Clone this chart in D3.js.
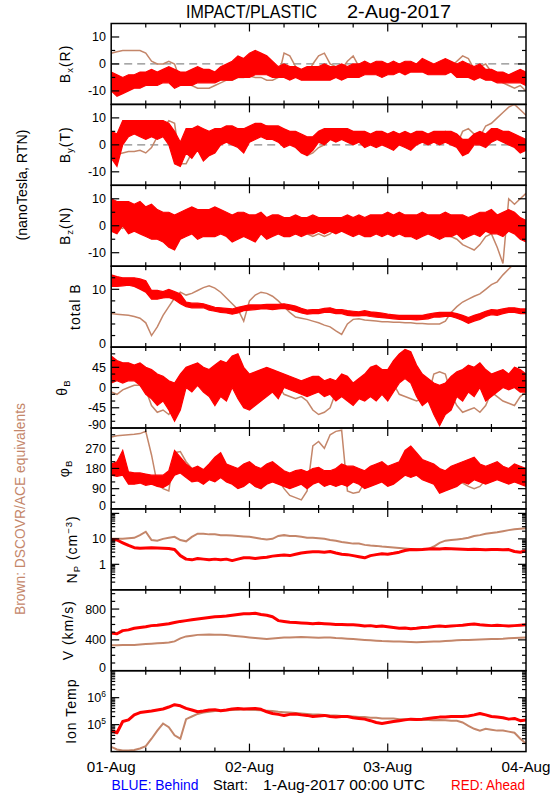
<!DOCTYPE html>
<html><head><meta charset="utf-8">
<script src="https://cdn.jsdelivr.net/npm/d3@7"></script>
<style>
body{margin:0;background:#fff}
svg{display:block}
text{font-family:"Liberation Sans",Arial,sans-serif;fill:#000}
</style>
</head><body><svg id="c" width="550" height="800"></svg>
<script>
// ---------------- DATA (hourly, 01-Aug-2017 00:00 .. 04-Aug-2017 00:00 UTC) ----------------
const bxRedLo = [-10,-12,-11,-10,-9,-9,-8,-8,-8,-7, -7,-9,-8,-8,-8,-7,-7,-7,-7,-6, -6,-6,-5,-5,-5,-4,-4,-4,-5,-5, -5,-6,-5,-6,-6,-6,-6,-6,-6,-5, -6,-5,-5,-5,-4,-4,-4,-5,-4,-4, -3,-4,-3,-3,-3,-4,-4,-4,-4,-3, -5,-5,-5,-6,-5,-6,-6,-7,-7,-7, -7,-7,-8];
const bxRedHi = [-3,-4,-5,-4,-4,-3,-3,-2,-3,-2, -1,-2,-3,-3,-2,-1,-2,-2,-3,-1, 0,1,3,2,4,5,4,3,1,-1, 0,-1,-1,-2,-1,-1,-1,0,-1,-1, 0,-1,0,0,1,0,1,1,0,1, 0,1,1,0,2,1,0,1,2,1, 0,1,0,-1,0,-2,-2,-3,-3,-4, -3,-2,-3];
const bxBrown = [4,4.5,5,5,5,5,4,1,0,0, 1,0,-6,-7,-8,-9,-9,-9,-8,-7, -6,-6,-5,-5,-4.5,-5,-5,-6,-6,-5, 4,3,-1,-3,-4,0,3,4,0,-1, -2,1,3,-1,-2,-2,-3,-2,-2,-3, -2,-2,-1,-2,-2,-1,-2,-2,0,-1, 1,3,2,-2,-1,0,-3,-5,-7,-8, -9,-8,-10];

const byRedLo = [-5,-8,0,3,4,3,2,3,2,3, 0,-7,-8,-3,-5,-2,-6,-4,-3,0, 1,0,-1,-3,1,2,3,2,2,1, -1,0,-1,-3,-4,-2,1,0,2,1, 2,1,0,1,-1,0,-1,0,-1,-2, 0,-1,-2,0,1,0,1,0,1,0, -1,-4,-3,0,0,-1,1,2,1,0, -1,-3,-2];
const byRedHi = [5,4,9,9,9,9,9,9,9,9, 8,5,1,6,6,7,6,5,6,6, 7,7,6,6,7,8,8,7,7,7, 6,5,5,4,3,3,5,6,6,6, 6,6,5,5,5,4,5,5,4,5, 4,5,4,5,5,4,5,5,5,5, 4,2,2,4,5,4,6,6,5,5, 4,3,2];
const byBrown = [-4,-3.5,-3,-2.5,-2.5,-2,-3,-1,3,6, 9,8,-7,-7,-3,1,4,4,4,5, 5,5,5,5,6,7,7,7,6,5, 3,2,1,0,-4,-3,-1,0,2,3, 3,2,3,4,3,2,1,2,2,3, 2,2,1,2,1,2,3,4,5,2, 0,5,6,4,3,7,8,10,12,14, 15,13,11];

const bzRedLo = [-2,-3,0,-3,-2,-3,-4,-5,-5,-6, -8,-9,-5,-4,-3,-5,-4,-4,-4,-3, -4,-6,-5,-4,-5,-6,-3,-5,-4,-3, -4,-4,-3,-4,-3,-3,-2,-3,-2,-3, -2,-3,-4,-3,-4,-4,-3,-4,-3,-4, -3,-4,-4,-5,-4,-3,-4,-5,-4,-4, -3,-5,-4,-3,-4,-2,-3,-3,-4,-2, -3,-5,-6];
const bzRedHi = [10,9,9,9,8,9,7,8,6,5, 5,4,5,6,7,6,6,6,7,6, 5,4,5,5,4,4,5,3,4,4, 3,3,4,3,3,4,3,3,3,3, 3,4,3,4,3,4,4,4,5,4, 5,4,4,4,5,4,4,4,5,4, 4,4,3,4,5,5,6,4,5,6, 5,3,2];
const bzBrown = [0,0,-1,1,0,1,0,-1,-2,-3, -4,-2,-1,4,5,5,4,5,4,4, 3,3,2,2,1,1,2,2,1,0, -1,-2,-3,-2,-3,-4,-3,-4,-3,-1, -1,0,-1,-1,-2,-1,-2,-1,-1,0, -1,-2,-1,-2,-1,-2,-3,-4,-3,-4, -5,-7,-8,-9,-7,-4,-3,-8,-14,10, 8,10,12];

const btRedLo = [10.5,10.5,10.6,10.7,10.5,10,9.5,8.3,8.3,8.5, 8.6,8.2,7.5,7,6.8,6.8,6.8,6.4,6.2,6, 5.9,5.7,5.9,6.3,6.4,6.5,6.6,6.6,6.5,6.6, 6.7,6.5,6.2,5.9,5.7,5.8,5.8,6,6,5.8, 5.8,5.5,5.4,5.4,5.5,5.3,5.2,5.1,5,4.9, 4.8,4.8,4.8,4.7,4.8,4.9,5.2,5.2,5.3,5.3, 5,4.6,4.1,4.5,4.8,5.3,5.6,5.5,5.8,6, 6,5.8,5.8];
const btRedHi = [12.5,12.2,12,12,12,11.8,11.5,9.8,9.8,9.6, 10,9.6,9.2,7.8,7.6,7.6,7.5,7.2,6.9,6.8, 6.7,6.6,6.9,7.1,7.3,7.3,7.3,7.4,7.4,7.4, 7.5,7.3,7.1,6.7,6.4,6.5,6.5,6.7,6.8,6.5, 6.5,6.3,6.2,6.1,6.3,6.1,6,5.9,5.7,5.6, 5.5,5.5,5.5,5.5,5.5,5.7,5.9,6,6,6, 5.8,5.5,5.1,5.5,5.8,6.2,6.5,6.4,6.6,6.8, 6.8,6.6,6.6];
const btBrown = [5.8,5.7,5.6,5.5,5.3,5.0,4.2,2.0,3.5,5.5, 7.0,8.5,9.5,9.0,9.3,9.8,10.3,10.6,10.2,9.5, 8.5,7.5,6.5,4.5,8.0,9.0,9.5,9.3,8.8,8.0, 7.0,6.0,5.2,5.0,4.8,4.5,4.2,3.8,3.5,2.8, 2.2,4.0,4.8,4.9,4.7,4.6,4.5,4.4,4.4,4.3, 4.3,4.2,4.2,4.1,4.1,4.0,4.0,4.0,4.5,6.0, 7.0,7.8,8.3,8.8,9.2,10.0,10.8,11.3,12.5,13.5, 14.5,15,15];

const thRedLo = [10,15,10,15,15,5,-15,-25,-40,-30, -50,-75,-50,0,-10,5,-10,-20,-40,-20, -30,0,-25,-45,-50,-40,-30,-20,-10,-25, 0,-5,-10,-15,-20,-15,-10,-20,-15,-30, -20,-30,-40,-25,-30,-20,-30,-15,-30,-10, 10,20,10,-20,-40,-30,-60,-85,-60,-50, -20,-30,-10,-20,0,-30,-20,-10,0,-5, 0,-10,-10];
const thRedHi = [70,60,55,55,50,55,45,40,30,25, 15,10,30,45,50,55,45,40,50,60, 55,70,75,45,30,35,40,45,40,35, 30,25,20,15,20,25,25,15,20,15, 30,25,10,20,30,45,50,40,40,60, 75,85,80,50,30,20,10,5,10,25, 35,40,50,45,55,40,30,35,40,30, 45,40,30];
const thBrown = [-10,-15,-5,0,5,5,-5,-40,-55,-50, -60,-40,20,25,20,15,20,30,40,45, 42,40,35,30,20,15,20,15,10,5, -15,-20,-25,-20,-30,-50,-60,-55,-45,-10, -5,0,10,12,15,10,8,10,5,8, -15,-20,-25,-30,-25,-20,30,35,30,-15, -40,-55,-50,-45,-55,-40,-10,-20,-30,-35, -40,-20,-10];

const phRedLo = [150,145,150,110,110,115,105,110,100,95, 110,150,160,140,120,125,110,130,120,140, 120,110,90,100,120,100,90,110,120,110, 100,90,100,110,90,110,120,100,110,100, 110,100,120,110,90,100,110,120,100,110, 130,150,140,150,130,120,110,70,80,90, 100,120,110,130,120,110,120,130,120,110, 120,110,100];
const phRedHi = [200,210,260,165,160,160,155,150,150,150, 170,260,230,200,180,190,175,200,230,250, 200,190,180,200,210,190,180,200,210,190, 170,160,170,175,165,180,185,170,170,180, 200,190,190,180,170,190,200,210,190,200, 210,260,280,250,220,210,200,180,170,190, 200,210,220,230,200,190,200,210,190,180, 200,190,180];
const phBrown = [320,325,328,330,332,335,345,240,110,90, 80,250,255,210,180,170,165,190,200,180, 170,175,160,150,130,100,90,120,140,130, 90,60,50,40,80,280,300,270,330,345, 350,80,70,75,120,140,150,130,145,160, 150,170,165,155,140,160,135,125,140,130, 120,115,100,90,100,130,150,140,135,150, 140,135,140];

const npRed = [9.5,9,7,5.5,4.5,4.3,4.4,4.5,4.4,4.3, 4.2,3.8,2.2,1.6,1.5,1.7,1.6,1.5,1.6,1.5, 1.6,1.4,1.6,1.8,1.8,1.7,1.8,1.9,2.1,2.2, 2.3,2.2,2.5,2.8,3.0,3.1,3.1,3.0,3.2,2.8, 2.5,2.4,2.2,2.0,1.8,2.2,2.4,2.6,2.5,2.7, 3.0,3.5,3.8,3.7,3.8,4.0,4.1,4.0,4.2,4.1, 4.0,3.9,3.8,3.9,3.8,3.7,3.8,3.8,3.7,3.8, 3.2,3.0,3.4];
const npBrown = [10,10,10,10.5,11,14,19,9,8.5,10, 11,12,9,8,12,16,16,15,15,14, 14,13.5,13,12.5,12,11,10,9.5,10,13, 14,13,13,12,11,11,10.5,10,9,8.5, 7.5,7,6.5,6.5,5.8,5.5,5.3,5.0,4.8,4.6, 4.4,4.2,4.0,4.0,4.0,3.9,5,7,8.5,9, 9.5,10,11,13,14,16,17,18,20,22, 24,25,26];

const vRed = [490,480,520,530,550,560,570,585,590,600, 610,625,640,650,660,670,680,690,700,705, 710,720,730,740,740,745,730,720,700,650, 640,630,625,620,615,610,615,610,605,600, 600,595,595,590,580,585,575,580,570,560, 550,555,545,550,560,565,575,580,575,580, 585,590,600,605,595,590,585,590,585,580, 585,590,595];
const vBrown = [330,330,332,333,335,340,345,350,355,360, 365,380,420,445,455,465,468,470,468,465, 462,455,448,440,432,425,418,412,418,425, 430,432,435,438,435,432,428,430,432,425, 420,415,410,405,400,395,390,385,382,380, 378,375,372,370,372,375,378,380,385,390, 395,398,400,402,405,408,410,412,415,420, 425,428,430];

const tRed = [6e4,5e4,1.3e5,1.5e5,2.3e5,2.8e5,3e5,3.2e5,3.5e5,3.8e5, 4.5e5,5.5e5,5e5,4e5,3.5e5,3e5,3.2e5,3.5e5,3.6e5,3.3e5, 3.5e5,3.8e5,4e5,3.8e5,3.9e5,4e5,3.7e5,3e5,2.6e5,2.4e5, 2.2e5,2.4e5,2.5e5,2.3e5,2.2e5,2e5,2.1e5,2.2e5,2e5,1.9e5, 2e5,2e5,1.8e5,1.7e5,1.6e5,1.4e5,1.2e5,1.1e5,1.2e5,1.3e5, 1.4e5,1.5e5,1.6e5,1.55e5,1.6e5,1.7e5,1.8e5,1.9e5,1.9e5,2e5, 2e5,2e5,2.1e5,2.3e5,2.6e5,2.3e5,2e5,1.9e5,1.8e5,1.6e5, 1.7e5,1.4e5,1.5e5];
const tBrown = [1.5e4,1.2e4,1.1e4,1.1e4,1.15e4,1.3e4,1.6e4,3e4,6e4,1.1e5, 8e4,4e4,3e4,1.6e5,2e5,2.5e5,2.8e5,3e5,3.2e5,3.3e5, 3.4e5,3.5e5,3.6e5,3.7e5,3.6e5,3.5e5,3.4e5,3.3e5,3.2e5,3e5, 2.9e5,2.8e5,2.7e5,2.6e5,2.5e5,2.4e5,2.4e5,2.3e5,2.2e5,2.2e5, 2.1e5,2e5,2e5,1.9e5,1.9e5,1.8e5,1.8e5,1.7e5,1.7e5,1.7e5, 1.6e5,1.6e5,1.55e5,1.5e5,1.5e5,1.5e5,1.45e5,1.5e5,1.45e5,1.4e5, 1.4e5,1.2e5,9e4,7e4,6e4,7e4,6.5e4,6e4,6e4,5.5e4, 5e4,3e4,2e4];

// tick labels
const bTickLabels = [-10, 0, 10];
const btTickLabels = [0, 10];
const thTickLabels = [-90, -45, 0, 45];
const phTickLabels = [0, 90, 180, 270];
const npTickLabels = [1, 10];
const vTickLabels = [0, 400, 800];
const tTickLabels = [1e5, 1e6];
const dayLabels = ["01-Aug", "02-Aug", "03-Aug", "04-Aug"];

// ---------------- DRAWING ----------------
const RED = "#ff0000", BROWN = "#c4866a", BLUE = "#0000ff";
const svg = d3.select("#c");
const t0 = new Date(Date.UTC(2017, 7, 1)), tEnd = new Date(Date.UTC(2017, 7, 4));
const times = d3.utcHour.range(t0, d3.utcHour.offset(tEnd, 1));
const X0 = 111.2, X1 = 526, TOP = 23.5, PH = 80.9;
const x = d3.scaleUtc().domain([t0, tEnd]).range([X0, X1]);

function range(a, b, s) { const r = []; for (let v = a; v <= b + 1e-9; v += s) r.push(v); return r; }
function logMinor(lo, hi) { const r = []; for (let d = lo; d < hi; d *= 10) for (let k = 2; k <= 9; k++) r.push(k * d); return r; }

const panels = [
  {domain: [-15, 15], major: [-10, 0, 10], minor: [-5, 5], labels: bTickLabels, zero: true, lo: bxRedLo, hi: bxRedHi, brown: bxBrown,
   title: [["B"], ["x", "sub"], ["(R)"]], tx: 70},
  {domain: [-15, 15], major: [-10, 0, 10], minor: [-5, 5], labels: bTickLabels, zero: true, lo: byRedLo, hi: byRedHi, brown: byBrown,
   title: [["B"], ["y", "sub"], ["(T)"]], tx: 70},
  {domain: [-15, 15], major: [-10, 0, 10], minor: [-5, 5], labels: bTickLabels, zero: true, lo: bzRedLo, hi: bzRedHi, brown: bzBrown,
   title: [["B"], ["z", "sub"], ["(N)"]], tx: 70},
  {domain: [0, 14], major: [0, 10], minor: [2, 4, 6, 8, 12], labels: btTickLabels, lo: btRedLo, hi: btRedHi, brown: btBrown,
   title: [["total B"]], tx: 80},
  {domain: [-90, 90], major: [-90, -45, 0, 45, 90], minor: range(-75, 75, 15).filter(v => v % 45 !== 0), labels: thTickLabels, lo: thRedLo, hi: thRedHi, brown: thBrown,
   title: [["θ"], ["B", "sub"]], tx: 67},
  {domain: [0, 360], major: [0, 90, 180, 270, 360], minor: range(30, 330, 30).filter(v => v % 90 !== 0), labels: phTickLabels, lo: phRedLo, hi: phRedHi, brown: phBrown,
   title: [["φ"], ["B", "sub"]], tx: 69},
  {log: true, domain: [0.1, 150], major: [1, 10, 100], minor: logMinor(0.1, 100).filter(v => v < 150), labels: npTickLabels, red: npRed, brown: npBrown,
   title: [["N"], ["P", "sub"], [" (cm"], ["−3", "sup"], [")"]], tx: 77},
  {domain: [0, 1050], major: [0, 400, 800], minor: [100, 200, 300, 500, 600, 700, 900, 1000], labels: vTickLabels, red: vRed, brown: vBrown,
   title: [["V (km/s)"]], tx: 73},
  {log: true, domain: [1e4, 1e7], major: [1e4, 1e5, 1e6, 1e7], minor: logMinor(1e4, 1e7), labels: tTickLabels, red: tRed, brown: tBrown, sup: true,
   title: [["Ion Temp"]], tx: 76}
];

function rich(sel, parts, base) {
  let cur = 0;
  parts.forEach(([txt, mode]) => {
    const shift = mode === "sub" ? 3 : mode === "sup" ? -5 : 0;
    const ts = sel.append("tspan").attr("dy", shift - cur).text(txt);
    if (mode) ts.attr("font-size", base * 0.68);
    cur = shift;
  });
}

const defs = svg.append("defs");
panels.forEach((p, i) => {
  const y0 = TOP + i * PH, y1 = y0 + PH;
  const y = (p.log ? d3.scaleLog() : d3.scaleLinear()).domain(p.domain).range([y1, y0]);
  defs.append("clipPath").attr("id", "cp" + i).append("rect")
    .attr("x", X0).attr("y", y0).attr("width", X1 - X0).attr("height", PH);
  const g = svg.append("g");
  const dg = g.append("g").attr("clip-path", `url(#cp${i})`);

  if (p.zero) {
    dg.append("line").attr("x1", X0).attr("x2", X1).attr("y1", y(0)).attr("y2", y(0))
      .attr("stroke", "#8a8a8a").attr("stroke-width", 1.3).attr("stroke-dasharray", "8,5");
  }
  // brown (DSCOVR/ACE)
  dg.append("path").datum(times)
    .attr("d", d3.line().x(d => x(d)).y((d, k) => y(p.brown[k])))
    .attr("fill", "none").attr("stroke", BROWN).attr("stroke-width", i >= 6 ? 2 : 1.5);
  // red (Ahead)
  if (p.lo) {
    dg.append("path").datum(times)
      .attr("d", d3.area().x(d => x(d)).y0((d, k) => y(p.lo[k])).y1((d, k) => y(p.hi[k])))
      .attr("fill", RED).attr("stroke", RED).attr("stroke-width", 1.2);
  } else {
    dg.append("path").datum(times)
      .attr("d", d3.line().x(d => x(d)).y((d, k) => y(p.red[k])))
      .attr("fill", "none").attr("stroke", RED).attr("stroke-width", 3).attr("stroke-linejoin", "round");
  }

  // frame
  g.append("rect").attr("x", X0).attr("y", y0).attr("width", X1 - X0).attr("height", PH)
    .attr("fill", "none").attr("stroke", "#000").attr("stroke-width", 1.5);

  // y ticks
  const tk = g.append("g").attr("stroke", "#000").attr("stroke-width", 1.2);
  const yt = (v, len) => {
    const yy = y(v);
    if (yy < y0 + 0.5 || yy > y1 - 0.5) return;
    tk.append("line").attr("x1", X0).attr("x2", X0 + len).attr("y1", yy).attr("y2", yy);
    tk.append("line").attr("x1", X1 - len).attr("x2", X1).attr("y1", yy).attr("y2", yy);
  };
  p.major.forEach(v => yt(v, 8));
  p.minor.forEach(v => yt(v, 4));
  // x ticks every 6 h
  d3.utcHour.every(6).range(t0, tEnd).slice(1).forEach(t => {
    const xx = x(t), len = t.getUTCHours() === 0 ? 8 : 4;
    tk.append("line").attr("x1", xx).attr("x2", xx).attr("y1", y1).attr("y2", y1 - len);
    tk.append("line").attr("x1", xx).attr("x2", xx).attr("y1", y0).attr("y2", y0 + len);
  });

  // y tick labels
  p.labels.forEach(v => {
    let yy = y(v);
    if (yy > y1 - 2) yy -= 3.5;
    const t = g.append("text").attr("x", 106).attr("y", yy).attr("dy", "0.36em")
      .attr("text-anchor", "end").attr("font-size", 12.5);
    if (p.sup) {
      t.append("tspan").text("10");
      t.append("tspan").attr("dy", -5).attr("font-size", 8.5).text(Math.round(Math.log10(v)));
    } else t.text(v);
  });

  // y title
  const tt = g.append("text").attr("font-size", 14).attr("text-anchor", "middle")
    .attr("letter-spacing", 1)
    .attr("transform", `translate(${p.tx},${(y0 + y1) / 2}) rotate(-90)`);
  rich(tt, p.title, 14);
});

// titles & annotations
svg.append("text").attr("x", 186).attr("y", 18.2).attr("font-size", 18)
  .attr("textLength", 131).attr("lengthAdjust", "spacingAndGlyphs").text("IMPACT/PLASTIC");
svg.append("text").attr("x", 347).attr("y", 18.2).attr("font-size", 18)
  .attr("textLength", 104).attr("lengthAdjust", "spacingAndGlyphs").text("2-Aug-2017");

svg.append("text").attr("font-size", 14).attr("text-anchor", "middle")
  .attr("transform", "translate(27,185) rotate(-90)")
  .attr("textLength", 111).attr("lengthAdjust", "spacingAndGlyphs").text("(nanoTesla,  RTN)");
svg.append("text").attr("font-size", 14).attr("text-anchor", "middle").style("fill", BROWN)
  .attr("transform", "translate(25,509) rotate(-90)")
  .attr("textLength", 212).attr("lengthAdjust", "spacingAndGlyphs").text("Brown: DSCOVR/ACE equivalents");

dayLabels.forEach((lab, k) => {
  svg.append("text").attr("x", x(d3.utcDay.offset(t0, k))).attr("y", 771.5)
    .attr("text-anchor", "middle").attr("font-size", 14)
    .attr("textLength", 49).attr("lengthAdjust", "spacingAndGlyphs").text(lab);
});
svg.append("text").attr("x", 111.5).attr("y", 790).attr("font-size", 14).style("fill", BLUE)
  .attr("textLength", 87).attr("lengthAdjust", "spacingAndGlyphs").text("BLUE: Behind");
svg.append("text").attr("x", 213).attr("y", 790).attr("font-size", 14)
  .attr("textLength", 35).attr("lengthAdjust", "spacingAndGlyphs").text("Start:");
svg.append("text").attr("x", 263).attr("y", 790).attr("font-size", 14)
  .attr("textLength", 162).attr("lengthAdjust", "spacingAndGlyphs").text("1-Aug-2017 00:00 UTC");
svg.append("text").attr("x", 451).attr("y", 790).attr("font-size", 14).style("fill", RED)
  .attr("textLength", 74).attr("lengthAdjust", "spacingAndGlyphs").text("RED: Ahead");
</script>
</body></html>
